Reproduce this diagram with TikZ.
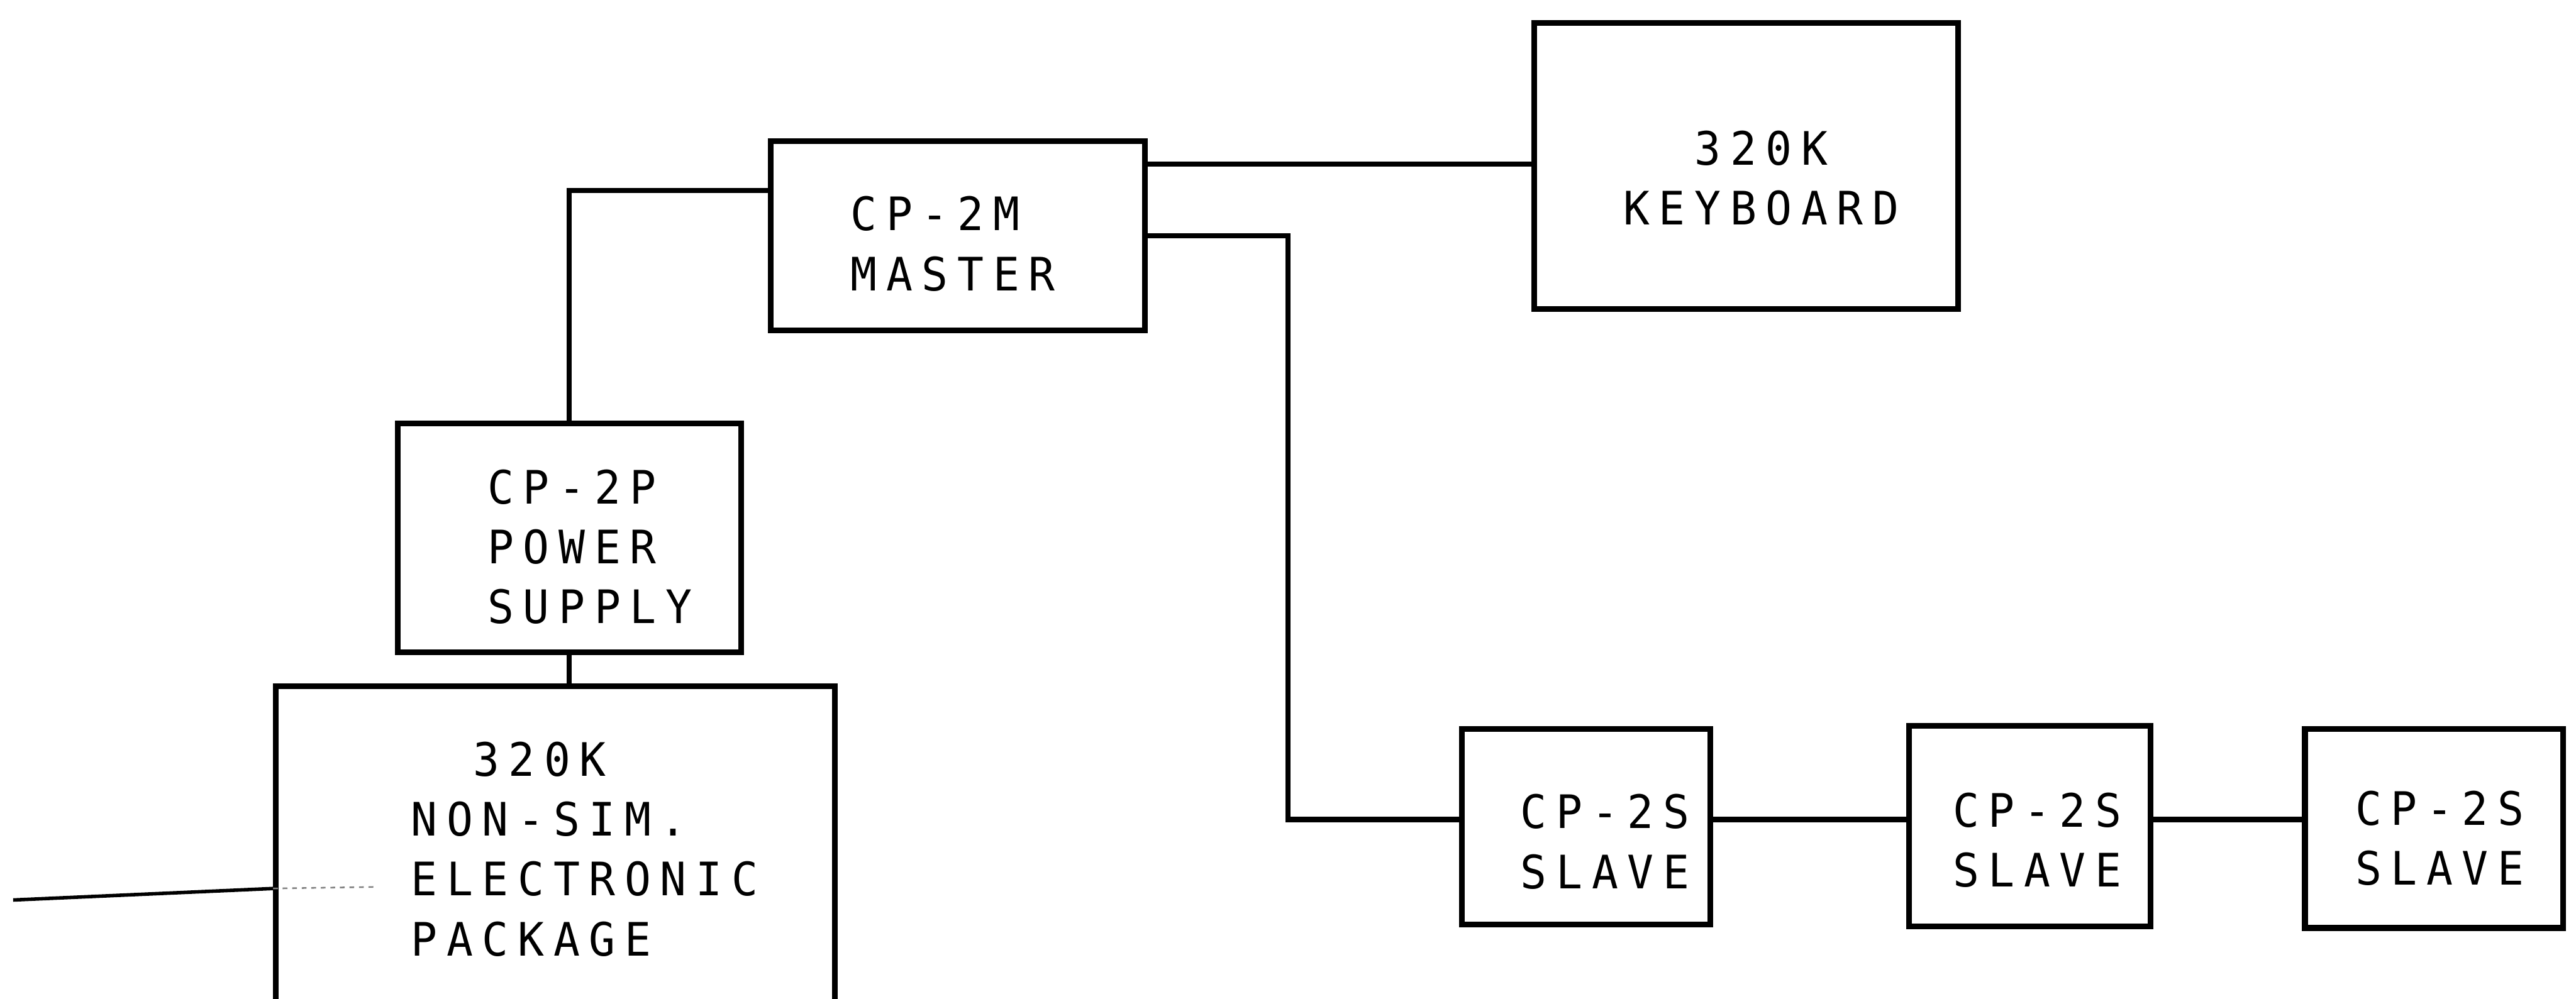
\documentclass[tikz,border=0pt]{standalone}
\usepackage{fontspec}
\newfontfamily\tw{DejaVu Sans Mono}[FakeStretch=0.95,LetterSpace=20]
\begin{document}
\begin{tikzpicture}[x=0.036307cm,y=-0.036307cm,
  box/.style={draw, line width=3.6pt, inner sep=0pt},
  txt/.style={font=\tw\fontsize{29}{37.7}\selectfont, align=left, inner sep=0pt},
  wire/.style={line width=3.2pt}]
\useasboundingbox (0,0) rectangle (1568,608);
% boxes
\node[box, minimum width=8.278cm, minimum height=4.175cm] (m) at (583,143.5) {};
\node[box, minimum width=9.367cm, minimum height=6.317cm] (k) at (1063,101) {};
\node[box, minimum width=7.588cm, minimum height=5.047cm] (p) at (346.5,327.5) {};
\node[box, minimum width=12.344cm, minimum height=8.786cm] (e) at (338,539) {};
\node[box, minimum width=5.482cm, minimum height=4.321cm] (s1) at (965.5,503.5) {};
\node[box, minimum width=5.337cm, minimum height=4.429cm] (s2) at (1235.5,503) {};
\node[box, minimum width=5.700cm, minimum height=4.393cm] (s3) at (1481.5,504.5) {};
% texts
\node[txt] (mt) at (580,148.5) {CP-2M\\MASTER};
\node[txt, align=center] (kt) at (1072,108.5) {320K\\KEYBOARD};
\node[txt] (pt) at (359,333) {CP-2P\\POWER\\SUPPLY};
\node[txt, anchor=west] (et) at (250,517) {\phantom{NO}320K\\NON-SIM.\\ELECTRONIC\\PACKAGE};
\node[txt] (s1t) at (977,512.5) {CP-2S\\SLAVE};
\node[txt] (s2t) at (1240,511.5) {CP-2S\\SLAVE};
\node[txt] (s3t) at (1485,510.5) {CP-2S\\SLAVE};
% connectors
\coordinate (ya) at (0,116);
\coordinate (yb) at (0,100);
\coordinate (yc) at (0,499);
\coordinate (j) at (784,143.5);
\coordinate (lin) at (8,548);
\coordinate (lend) at (230,540);
\draw[wire] (m.west |- ya) -| (p.north);
\draw[wire] (p.south) -- (p.south |- e.north);
\draw[wire] (m.east |- yb) -- (k.west |- yb);
\draw[wire] (m.east) -- (j) |- (s1.west |- yc);
\draw[wire] (s1.east |- yc) -- (s2.west |- yc);
\draw[wire] (s2.east |- yc) -- (s3.west |- yc);
\draw[line width=2.2pt] (lin) -- (e.west |- 0,541);
\draw[line width=1pt, dashed, gray] (e.west |- 0,541) -- (lend);
\end{tikzpicture}
\end{document}
